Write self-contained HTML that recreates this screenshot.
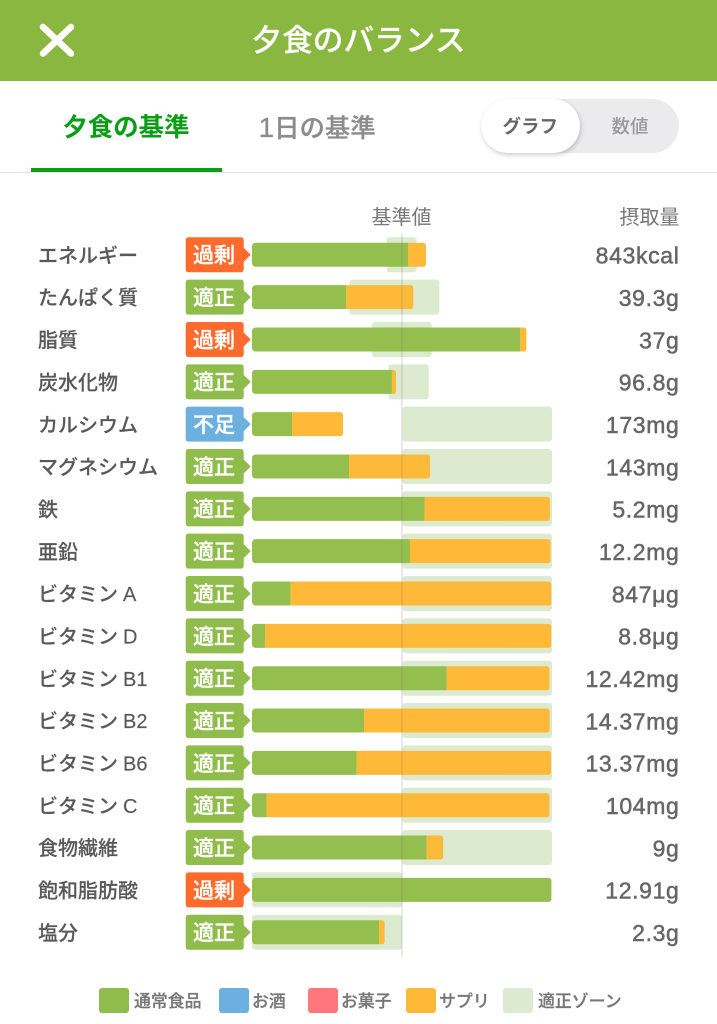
<!DOCTYPE html>
<html lang="ja">
<head>
<meta charset="utf-8">
<title>夕食のバランス</title>
<style>
html,body{margin:0;padding:0;background:#fff;}
body{width:717px;height:1024px;overflow:hidden;position:relative;font-family:"Liberation Sans","Noto Sans CJK JP",sans-serif;}
.abs{position:absolute;white-space:nowrap;}
#header{left:0;top:0;width:717px;height:81px;background:#8ab73f;}
#title{left:0;top:0;width:717px;height:81px;line-height:81px;text-align:center;color:#fff;font-size:30.7px;font-weight:500;-webkit-text-stroke:.2px #fff;}
.tab{font-size:25.4px;line-height:36px;font-weight:700;}
#toggle{left:481px;top:99px;width:198px;height:54px;border-radius:27px;background:#ebebed;}
#knob{left:481px;top:99px;width:99px;height:54px;border-radius:27px;background:#fff;box-shadow:1px 2px 5px rgba(0,0,0,.2);}
.tog{font-size:18.5px;line-height:26px;font-weight:700;}
.sw{width:30px;height:25px;top:988px;border-radius:3px;}
.lg{top:988.5px;height:25px;line-height:25px;font-size:16.9px;font-weight:500;color:#777;-webkit-text-stroke:.25px #777;}
svg{position:absolute;left:0;top:0;}
</style>
</head>
<body>
<div class="abs" id="header"></div>
<div class="abs" id="title">夕食のバランス</div>
<svg width="717" height="81" style="pointer-events:none">
  <line x1="43" y1="27" x2="71" y2="53.5" stroke="#fff" stroke-width="6.5" stroke-linecap="round"/>
  <line x1="71" y1="27" x2="43" y2="53.5" stroke="#fff" stroke-width="6.5" stroke-linecap="round"/>
</svg>

<div class="abs tab" style="left:62.5px;top:110px;color:#0a9e14">夕食の基準</div>
<div class="abs tab" style="left:258.5px;top:110px;color:#8c8c8c;font-weight:500;-webkit-text-stroke:.3px #8c8c8c"><span style="font-size:28px">1</span>日の基準</div>
<div class="abs" style="left:0;top:172px;width:717px;height:1px;background:#e4e4e4"></div>
<div class="abs" style="left:31px;top:167.5px;width:191px;height:4.5px;background:#0a9e14"></div>

<div class="abs" id="toggle"></div>
<div class="abs" id="knob"></div>
<div class="abs tog" style="left:502.5px;top:114px;color:#666">グラフ</div>
<div class="abs tog" style="left:611.5px;top:114px;color:#999;font-weight:500">数値</div>

<svg id="chart" width="717" height="1024"></svg>

<div class="abs sw" style="left:98.5px;background:#8fbc4a"></div>
<div class="abs lg" style="left:134px">通常食品</div>
<div class="abs sw" style="left:218.5px;background:#6cb0e0"></div>
<div class="abs lg" style="left:252px">お酒</div>
<div class="abs sw" style="left:307.5px;background:#ff767c"></div>
<div class="abs lg" style="left:341px">お菓子</div>
<div class="abs sw" style="left:406px;background:#ffb938"></div>
<div class="abs lg" style="left:439px">サプリ</div>
<div class="abs sw" style="left:503px;background:#dcead0"></div>
<div class="abs lg" style="left:538px">適正ゾーン</div>

<script>
const categories = ["エネルギー","たんぱく質","脂質","炭水化物","カルシウム","マグネシウム","鉄","亜鉛","ビタミンA","ビタミンD","ビタミンB1","ビタミンB2","ビタミンB6","ビタミンC","食物繊維","飽和脂肪酸","塩分"];
const statuses = ["過剰","適正","過剰","適正","不足","適正","適正","適正","適正","適正","適正","適正","適正","適正","適正","過剰","適正"];
const foodPercent = [104,62.7,178.9,93.3,26.7,64.7,115,105.3,25.8,8.7,129.7,74.7,69.7,9.7,116.5,199.6,84.7];
const supplementPercent = [12,44.8,4,2.7,34,54,83.6,93.7,173.7,190.7,68.6,123.7,129.6,188.6,10.9,0,3.7];
const zoneLow = [89.8,64.9,80,91,100.3,100.3,100.3,100.3,100.3,100.3,100.3,100.3,100.3,100.3,100.3,0,0];
const zoneHigh = [109.8,124.9,119.8,117.8,200,200,200,200,200,200,200,200,200,200,200,100,100];
const printedValues = ["843kcal","39.3g","37g","96.8g","173mg","143mg","5.2mg","12.2mg","847μg","8.8μg","12.42mg","14.37mg","13.37mg","104mg","9g","12.91g","2.3g"];

const NS = "http://www.w3.org/2000/svg";
const chart = document.getElementById("chart");
const xScale = function (p) { return 252 + p * 1.5; };
const yScale = function (i) { return 254.8 + i * 42.34; };
const tagColors = { "過剰": "#ff6b2c", "適正": "#8fbc4a", "不足": "#6cb0e0" };

function make(tag, attrs, text) {
  const el = document.createElementNS(NS, tag);
  for (const k in attrs) el.setAttribute(k, attrs[k]);
  if (text !== undefined) el.textContent = text;
  return el;
}
function segment(x0, x1, cy, h, rl, rr) {
  const t = cy - h / 2, b = cy + h / 2;
  return "M" + (x0 + rl) + " " + t + "H" + (x1 - rr) + "Q" + x1 + " " + t + " " + x1 + " " + (t + rr) +
    "V" + (b - rr) + "Q" + x1 + " " + b + " " + (x1 - rr) + " " + b + "H" + (x0 + rl) +
    "Q" + x0 + " " + b + " " + x0 + " " + (b - rl) + "V" + (t + rl) + "Q" + x0 + " " + t + " " + (x0 + rl) + " " + t + "Z";
}
function tagPath(cy) {
  const l = 185.7, r = 243.7, tip = 250.7, t = cy - 17.5, b = cy + 17.5, q = 3;
  return "M" + (l + q) + " " + t + "H" + (r - q) + "Q" + r + " " + t + " " + r + " " + (t + q) +
    "V" + (cy - 7) + "L" + tip + " " + cy + "L" + r + " " + (cy + 7) + "V" + (b - q) +
    "Q" + r + " " + b + " " + (r - q) + " " + b + "H" + (l + q) + "Q" + l + " " + b + " " + l + " " + (b - q) +
    "V" + (t + q) + "Q" + l + " " + t + " " + (l + q) + " " + t + "Z";
}

const headerStd = make("text", { x: 401.5, y: 218, "text-anchor": "middle", "dominant-baseline": "central", "font-size": 20, fill: "#777" }, "基準値");


chart.appendChild(headerStd);
const headerIntake = make("text", { x: 679.5, y: 218, "text-anchor": "end", "dominant-baseline": "central", "font-size": 20, fill: "#777" }, "摂取量");


chart.appendChild(headerIntake);

categories.forEach(function (name, i) {
  const cy = yScale(i);

  const latin = name.match(/^(.*ン)([A-Z0-9]+)$/);
  const label = make("text", { x: 38, y: cy + 1.6, "dominant-baseline": "central", "font-size": 20, "font-weight": 500, fill: "#595959", stroke: "#595959", "stroke-width": 0.15 });
  if (latin) {
    label.appendChild(make("tspan", {}, latin[1]));
    label.appendChild(make("tspan", { dx: 5 }, latin[2]));
  } else {
    label.textContent = name;
  }
  
  
  chart.appendChild(label);

  const zone = make("rect", { x: xScale(zoneLow[i]), y: cy - 17.5, width: xScale(zoneHigh[i]) - xScale(zoneLow[i]), height: 35, rx: 3, fill: "#dcead0" });
  
  
  chart.appendChild(zone);

  const tag = make("path", { d: tagPath(cy), fill: tagColors[statuses[i]] });
  
  
  chart.appendChild(tag);

  const tagText = make("text", { x: 214, y: cy + 1.4, "text-anchor": "middle", "dominant-baseline": "central", "font-size": 21, "font-weight": 500, fill: "#fff", stroke: "#fff", "stroke-width": 0.35 }, statuses[i]);
  
  
  chart.appendChild(tagText);

  const x0 = xScale(0);
  const x1 = xScale(foodPercent[i]);
  const x2 = xScale(foodPercent[i] + supplementPercent[i]);
  const hasSupp = supplementPercent[i] > 0;

  const food = make("path", { d: segment(x0, x1, cy, 24, 4, hasSupp ? 0 : 3), fill: "#94bf4f" });
  
  
  chart.appendChild(food);

  if (hasSupp) {
    const supp = make("path", { d: segment(x1, x2, cy, 24, 0, Math.min(3, x2 - x1)), fill: "#ffb938" });
    
    
    chart.appendChild(supp);
  }

  const val = make("text", { x: 679.5, y: cy + 0.8, "text-anchor": "end", "dominant-baseline": "central", "font-size": 23, "letter-spacing": 0.65, fill: "#666", stroke: "#666", "stroke-width": 0.5 }, printedValues[i]);
  
  
  chart.appendChild(val);
});

const refLine = make("line", { x1: xScale(100), x2: xScale(100), y1: 233, y2: 956.7, stroke: "rgba(110,110,110,.3)", "stroke-width": 1 });


chart.appendChild(refLine);
</script>
</body>
</html>
